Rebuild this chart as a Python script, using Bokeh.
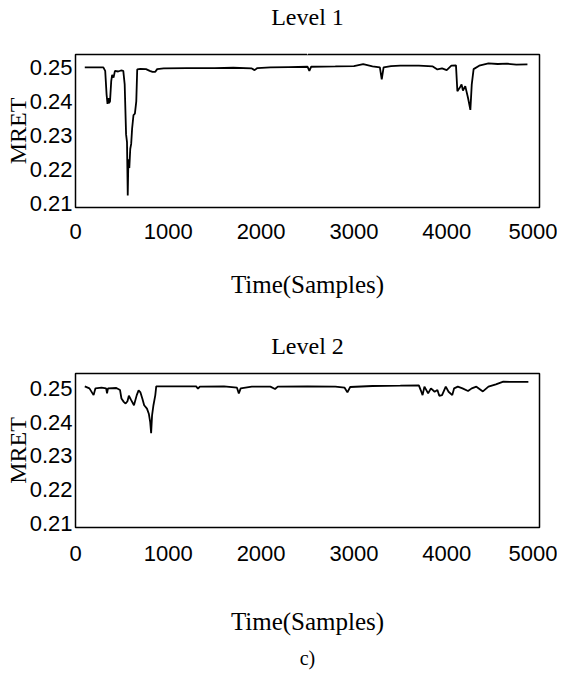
from bokeh.plotting import figure
from bokeh.layouts import column
from bokeh.models import FixedTicker, Title, Range1d, LinearAxis
from bokeh.embed import file_html
from bokeh.resources import INLINE

# ---------------- data ----------------
x_ticks = [0, 1000, 2000, 3000, 4000, 5000]
x_tick_labels = ["0", "1000", "2000", "3000", "4000", "5000"]
y_ticks = [0.21, 0.22, 0.23, 0.24, 0.25]
y_tick_labels = ["0.21", "0.22", "0.23", "0.24", "0.25"]

level1_t = [100, 300, 320, 335, 345, 355, 362, 372, 385, 395, 410, 425, 460, 490,
            515, 530, 545, 555, 563, 570, 580, 590, 600, 610, 625, 640, 655, 665,
            700, 760, 800, 830, 860, 880, 950, 1200, 1500, 1700, 1900, 1930, 1960,
            2100, 2300, 2500, 2520, 2540, 2800, 3000, 3100, 3200, 3280, 3300, 3320,
            3400, 3500, 3700, 3850, 3900, 3950, 4000, 4050, 4100, 4115, 4140, 4160,
            4175, 4200, 4230, 4255, 4270, 4290, 4350, 4450, 4550, 4650, 4750, 4870]
level1_v = [0.2500, 0.2500, 0.2490, 0.2420, 0.2393, 0.2410, 0.2395, 0.2400, 0.2460,
            0.2478, 0.2470, 0.2490, 0.2488, 0.2491, 0.2490, 0.2450, 0.2303, 0.2280,
            0.2123, 0.2230, 0.2204, 0.2260, 0.2275, 0.2320, 0.2360, 0.2364, 0.2400,
            0.2494, 0.2496, 0.2495, 0.2490, 0.2487, 0.2487, 0.2495, 0.2497, 0.2498,
            0.2498, 0.2499, 0.2497, 0.2492, 0.2498, 0.2500, 0.2501, 0.2502, 0.2490,
            0.2502, 0.2503, 0.2504, 0.2510, 0.2503, 0.2500, 0.2465, 0.2500, 0.2504,
            0.2505, 0.2505, 0.2503, 0.2494, 0.2497, 0.2492, 0.2505, 0.2506, 0.2430,
            0.2440, 0.2450, 0.2432, 0.2445, 0.2410, 0.2375, 0.2450, 0.2495, 0.2505,
            0.2512, 0.2510, 0.2511, 0.2508, 0.2509]

level2_t = [100, 150, 195, 215, 280, 330, 340, 350, 440, 480, 495, 520, 540, 560,
            575, 600, 630, 660, 680, 700, 720, 740, 770, 790, 805, 815, 825, 840,
            860, 870, 1000, 1300, 1320, 1340, 1600, 1740, 1760, 1780, 1900, 2100,
            2150, 2180, 2500, 2800, 2900, 2930, 2960, 3200, 3500, 3700, 3720, 3740,
            3760, 3800, 3830, 3870, 3900, 3920, 3950, 3990, 4020, 4060, 4080, 4120,
            4170, 4230, 4270, 4320, 4390, 4450, 4530, 4610, 4700, 4880]
level2_v = [0.2506, 0.2500, 0.2480, 0.2500, 0.2502, 0.2500, 0.2485, 0.2500, 0.2501,
            0.2495, 0.2470, 0.2460, 0.2455, 0.2462, 0.2478, 0.2465, 0.2450, 0.2480,
            0.2494, 0.2488, 0.2470, 0.2450, 0.2440, 0.2425, 0.2400, 0.2367, 0.2420,
            0.2450, 0.2480, 0.2506, 0.2506, 0.2506, 0.2499, 0.2505, 0.2506, 0.2502,
            0.2485, 0.2500, 0.2505, 0.2505, 0.2498, 0.2505, 0.2506, 0.2505, 0.2502,
            0.2488, 0.2504, 0.2507, 0.2508, 0.2509, 0.2495, 0.2480, 0.2505, 0.2485,
            0.2500, 0.2490, 0.2495, 0.2478, 0.2480, 0.2505, 0.2490, 0.2480, 0.2500,
            0.2505, 0.2500, 0.2492, 0.2500, 0.2505, 0.2491, 0.2505, 0.2512, 0.2520,
            0.2519, 0.2519]

SERIF = "Liberation Serif"
SANS = "Liberation Sans"


def make_panel(title, t, v, width, height, border_l, border_r, border_t, border_b,
               y_lo, y_hi, title_standoff, title_gap, tick_standoff, label_standoff):
    p = figure(width=width, height=height, output_backend="svg", toolbar_location=None,
               x_range=Range1d(0, 5000), y_range=Range1d(y_lo, y_hi),
               min_border_left=border_l, min_border_right=border_r,
               min_border_top=border_t, min_border_bottom=border_b)
    p.line(t, v, line_color="black", line_width=1.8)

    xa = p.below[0]
    ya = p.left[0]

    if title_gap > 0:
        # blank spacer between the frame and the title: one white tick, no label
        spacer = LinearAxis(ticker=FixedTicker(ticks=[2500], minor_ticks=[]),
                            axis_line_color=None,
                            major_tick_line_color="white", minor_tick_line_color=None,
                            major_tick_in=0, major_tick_out=title_gap,
                            minor_tick_in=0, minor_tick_out=0,
                            major_label_text_color=None,
                            major_label_standoff=0, axis_label_standoff=0)
        p.add_layout(spacer, "above")

    p.title.text = title
    p.title.align = "center"
    p.title.text_font = SERIF
    p.title.text_font_size = "24px"
    p.title.text_font_style = "normal"
    p.title.text_color = "black"
    p.title.standoff = title_standoff

    p.grid.visible = False
    p.outline_line_color = "black"
    p.outline_line_width = 1.5
    p.outline_line_alpha = 1.0

    xa.ticker = FixedTicker(ticks=x_ticks)
    xa.major_label_overrides = dict(zip(x_ticks, x_tick_labels))
    ya.ticker = FixedTicker(ticks=y_ticks)
    ya.major_label_overrides = dict(zip(y_ticks, y_tick_labels))

    for ax in (xa, ya):
        ax.axis_line_color = None
        ax.major_tick_line_color = None
        ax.minor_tick_line_color = None
        ax.major_tick_in = 0
        ax.major_tick_out = 0
        ax.minor_tick_in = 0
        ax.minor_tick_out = 0
        ax.major_label_text_font = SANS
        ax.major_label_text_font_size = "22px"
        ax.major_label_text_color = "black"
        ax.axis_label_text_font = SERIF
        ax.axis_label_text_font_style = "normal"
        ax.axis_label_text_color = "black"

    xa.axis_label = "Time(Samples)"
    xa.axis_label_text_font_size = "25px"
    xa.major_label_standoff = tick_standoff
    xa.axis_label_standoff = label_standoff
    ya.axis_label = "MRET"
    ya.axis_label_text_font_size = "24px"
    ya.major_label_standoff = 3
    ya.axis_label_standoff = -4
    return p


p1 = make_panel("Level 1", level1_t, level1_v, 557, 308, 71, 18, 52, 101,
                0.2088, 0.2538, 2, 24, 16, 29)
p2 = make_panel("Level 2", level2_t, level2_v, 557, 367, 75, 16, 65, 148,
                0.2088, 0.2544, 30, 0, 18, 44)
p2.add_layout(Title(text="c)", align="center", text_font=SERIF, text_font_size="20px",
                    text_font_style="normal", text_color="black", standoff=14), "below")

layout = column(p1, p2)
open("out.html", "w").write(file_html(layout, INLINE))
